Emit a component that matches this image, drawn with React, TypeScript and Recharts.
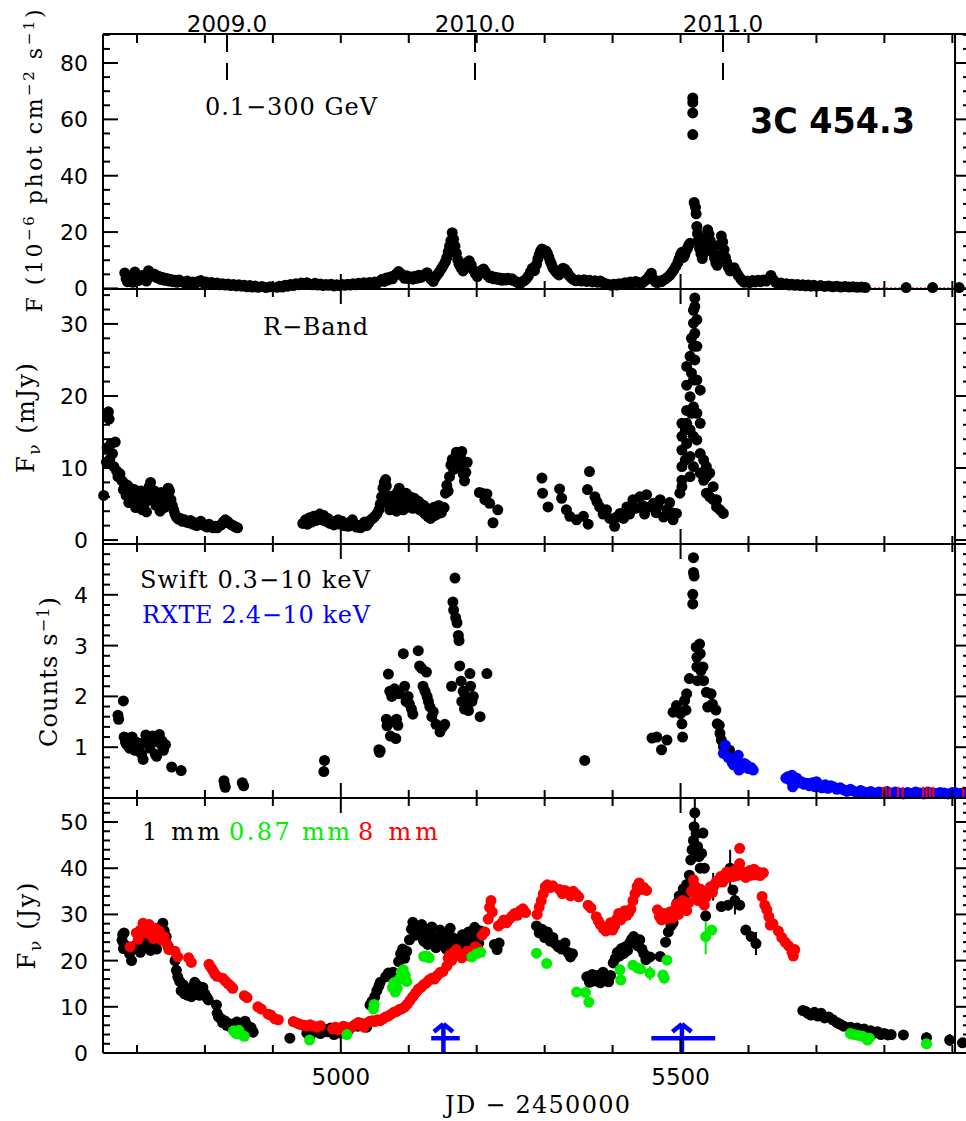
import React from "react"
import { ScatterChart, Scatter, XAxis, YAxis, ReferenceLine, ErrorBar } from "recharts"

const BLACK = "#000000"
const GREEN = "#00ee00"
const RED = "#ff0000"
const BLUE = "#0000ff"
const SANS = "'DejaVu Sans', sans-serif"
const SERIF = "'DejaVu Serif', serif"

const CHART_W = 981
const DOT_R = 5.5

// shared time axis (JD - 2450000)
const jdDomain: [number, number] = [4650, 5926]
const jdTicks = [4700, 4800, 4900, 5000, 5100, 5200, 5300, 5400, 5500, 5600, 5700, 5800, 5900]
const jdMajor = [5000, 5500]
const jdLabelled = [5000, 5500]
const yearJD = [4832.5, 5197.5, 5562.5]
const yearLabels = ["2009.0", "2010.0", "2011.0"]
const topTicks = [4700, 4800, 4832.5, 4900, 5000, 5100, 5197.5, 5200, 5300, 5400, 5500, 5562.5, 5600, 5700, 5800, 5900]
const edgeJD = 5904

// panel 1: 0.1-300 GeV
const gammaTicks = [0, 5, 10, 15, 20, 25, 30, 35, 40, 45, 50, 55, 60, 65, 70, 75, 80, 85, 90]
const gammaMajor = [0, 20, 40, 60, 80]
const gamma: [number, number][] = [
  [4682, 5.5], [4684, 3.5], [4686, 2.4], [4688, 4.5], [4691, 3], [4694, 2.2], [4697, 5.8], [4700, 4.5], [4702, 2.8], [4705, 3.4],
  [4708, 4.6], [4711, 3.3], [4714, 2.6], [4717, 6.3], [4720, 5.2], [4723, 4.4], [4726, 5], [4729, 3.8], [4732, 4.3], [4735, 3.2],
  [4738, 3.9], [4741, 2.9], [4744, 3.5], [4747, 2.6], [4750, 3.2], [4753, 2.4], [4756, 2.9], [4759, 2.2], [4762, 3], [4766, 2.4],
  [4770, 2], [4774, 2.6], [4778, 1.8], [4782, 2.3], [4786, 1.7], [4790, 2.5], [4794, 2.8], [4798, 1.9], [4802, 2.3], [4806, 1.6],
  [4810, 2.1], [4814, 1.5], [4818, 1.9], [4822, 1.3], [4826, 1.7], [4830, 1.2], [4834, 1.6], [4838, 1], [4842, 1.4], [4846, 0.9],
  [4850, 1.3], [4854, 0.8], [4858, 1.1], [4862, 0.6], [4866, 1], [4870, 0.5], [4874, 0.9], [4878, 0.4], [4884, 0.7], [4890, 0.3],
  [4896, 0.6], [4906, 0.4], [4910, 0.8], [4914, 0.5], [4918, 1.1], [4922, 0.8], [4926, 1.4], [4930, 1], [4934, 1.7], [4938, 1.3],
  [4942, 1.9], [4946, 1.5], [4950, 2], [4954, 1.6], [4958, 1.3], [4962, 1.8], [4966, 1.2], [4970, 1.6], [4974, 1], [4978, 1.4],
  [4982, 1.1], [4986, 1.5], [4990, 0.9], [4994, 1.3], [4998, 1], [5002, 1.4], [5006, 1.1], [5010, 1.5], [5014, 1.2], [5018, 1.7],
  [5022, 1.3], [5026, 1.8], [5030, 1.4], [5034, 2], [5038, 1.5], [5042, 2.1], [5046, 1.7], [5050, 2.3], [5054, 1.9], [5058, 2.7],
  [5061, 3.3], [5064, 2.5], [5067, 3.7], [5070, 3], [5073, 4.1], [5076, 3.4], [5079, 4.6], [5082, 5.2], [5085, 6], [5088, 5.3],
  [5091, 4.4], [5094, 3.6], [5097, 4.5], [5100, 3.5], [5103, 4.1], [5106, 3.3], [5109, 4.3], [5112, 3.6], [5115, 4.7], [5118, 3.9],
  [5121, 4.4], [5124, 5], [5127, 5.6], [5130, 4.4], [5133, 3.2], [5136, 2.5], [5139, 3.8], [5142, 4.9], [5145, 5.8], [5148, 7],
  [5151, 8.2], [5154, 9.5], [5156, 11], [5158, 13], [5160, 15], [5162, 17], [5164, 19.8], [5166, 17.5], [5168, 15], [5170, 12.5],
  [5172, 10.2], [5174, 8.6], [5177, 7.2], [5180, 6.2], [5183, 7.8], [5186, 9.2], [5189, 9.8], [5192, 8.3], [5195, 6.5], [5198, 5.3],
  [5201, 4.2], [5204, 5.4], [5207, 6.4], [5210, 6.9], [5213, 5.8], [5216, 4.6], [5219, 3.8], [5222, 4.3], [5225, 3.4], [5228, 4],
  [5231, 3.2], [5234, 3.7], [5237, 2.9], [5240, 3.5], [5243, 3], [5246, 3.6], [5249, 3.1], [5252, 3.4], [5255, 2.7], [5258, 2.4],
  [5261, 2], [5264, 1.7], [5267, 2.4], [5270, 2.8], [5273, 3.4], [5276, 4.4], [5279, 5.8], [5282, 7.2], [5285, 6.3], [5288, 8.5],
  [5290, 10.5], [5292, 12], [5294, 13.2], [5296, 14], [5298, 13.5], [5300, 12.6], [5302, 13.3], [5304, 12.4], [5306, 11.2], [5308, 9.8],
  [5310, 8.6], [5312, 7.4], [5315, 6.4], [5318, 5.4], [5321, 4.8], [5324, 6.2], [5327, 7.2], [5330, 6.8], [5333, 5.8], [5336, 4.6],
  [5339, 3.8], [5342, 3.2], [5346, 2.7], [5350, 3], [5354, 2.6], [5358, 3.1], [5362, 2.5], [5366, 2.9], [5370, 2.3], [5374, 2.7],
  [5378, 2.2], [5382, 2.6], [5386, 2], [5390, 1.7], [5394, 1.4], [5398, 1.1], [5402, 1.5], [5406, 1.2], [5410, 1.7], [5414, 1.4],
  [5418, 2], [5422, 1.6], [5426, 2.3], [5430, 1.9], [5434, 2.5], [5438, 2.1], [5442, 1.6], [5446, 2.4], [5450, 3.2], [5454, 4.4],
  [5457, 5.4], [5460, 3.4], [5463, 2.3], [5466, 2.1], [5469, 2.6], [5472, 2.4], [5475, 3], [5478, 3.4], [5481, 4], [5484, 4.6],
  [5487, 5.6], [5490, 6.6], [5493, 7.8], [5496, 9.2], [5498, 10.6], [5500, 12], [5502, 12.8], [5504, 11], [5506, 11.8], [5508, 13.2],
  [5510, 14.2], [5512, 15.3], [5514, 16], [5518, 54.6], [5518, 62.3], [5518, 66], [5518, 67.6], [5520, 30.5], [5522, 28.8], [5523, 26.5],
  [5524, 22], [5525, 19.5], [5526, 17], [5528, 14.2], [5530, 12.3], [5532, 10.6], [5534, 12.5], [5536, 15.5], [5538, 18], [5540, 20.8],
  [5542, 19.2], [5544, 16.8], [5546, 14.7], [5548, 12.8], [5550, 10.8], [5552, 9], [5554, 8.2], [5556, 11.5], [5558, 15.5], [5560, 18.6],
  [5562, 16.5], [5564, 13.8], [5566, 11], [5568, 9.2], [5570, 7.6], [5573, 6.2], [5576, 6.8], [5579, 7.3], [5582, 5.8], [5585, 4.6],
  [5588, 3.6], [5591, 2.7], [5594, 2.2], [5598, 2.6], [5602, 2.1], [5606, 2.8], [5610, 2.3], [5614, 2.9], [5618, 2.4], [5622, 3],
  [5626, 2.6], [5630, 3.5], [5633, 4.6], [5636, 3.2], [5640, 2.2], [5644, 1.6], [5648, 1.9], [5652, 1.4], [5656, 1.7], [5660, 1.2],
  [5664, 1.5], [5668, 1.1], [5672, 1.4], [5676, 1], [5680, 1.3], [5684, 0.9], [5688, 1.2], [5692, 0.8], [5696, 1.1], [5700, 0.8],
  [5706, 1], [5712, 0.7], [5718, 0.9], [5724, 0.6], [5730, 0.8], [5736, 0.5], [5742, 0.7], [5748, 0.5], [5754, 0.6], [5760, 0.4],
  [5766, 0.5], [5772, 0.3], [5832, 0.3], [5871, 0.3], [5910, 0.3],
]
const gammaLimitJD = [4878, 4882, 4887, 4892, 4897, 4902, 4907, 4912, 4917, 4922, 4927, 5780, 5786, 5792, 5798, 5804, 5810, 5816,
  5822, 5828, 5836, 5842, 5848, 5854, 5860, 5866, 5876, 5882, 5888, 5894, 5900, 5908, 5914, 5920]

// panel 2: R band
const rTicks = [0, 2, 4, 6, 8, 10, 12, 14, 16, 18, 20, 22, 24, 26, 28, 30, 32, 34]
const rMajor = [0, 10, 20, 30]
const rBand: [number, number][] = [
  [4651, 6.2], [4655, 10.8], [4656, 12.8], [4657, 17], [4658, 17.8], [4659, 16.8], [4660, 11.2], [4662, 13.4], [4664, 12], [4666, 10.2],
  [4668, 13.6], [4670, 9.6], [4672, 8.8], [4675, 9.2], [4678, 8.2], [4680, 7], [4682, 7.8], [4684, 6.2], [4686, 7.6], [4688, 5.2],
  [4690, 7.2], [4692, 6.4], [4694, 5.5], [4696, 7], [4698, 4.5], [4700, 6.8], [4702, 6], [4704, 5], [4706, 6.8], [4708, 4.2],
  [4710, 6.4], [4712, 5.2], [4714, 3.9], [4716, 6], [4718, 7.4], [4720, 8], [4722, 6.6], [4724, 5.5], [4726, 6.8], [4728, 4.8],
  [4730, 6.2], [4732, 5.4], [4734, 4], [4736, 6.6], [4738, 5.6], [4740, 4.5], [4742, 6.3], [4744, 5], [4746, 7.2], [4748, 6.8],
  [4750, 5.6], [4752, 4.8], [4754, 4.2], [4756, 3.6], [4758, 3.2], [4761, 2.9], [4764, 3], [4767, 2.6], [4770, 2.8], [4773, 2.5],
  [4776, 2.4], [4779, 2.7], [4782, 2.2], [4785, 2.4], [4788, 2], [4791, 2.3], [4794, 2.6], [4797, 2.1], [4800, 2], [4803, 1.8],
  [4806, 2.2], [4809, 1.9], [4812, 1.7], [4815, 1.9], [4818, 1.7], [4821, 2], [4824, 2.1], [4827, 2.5], [4830, 2.8], [4833, 2.6],
  [4836, 2.3], [4839, 2.1], [4842, 2], [4845, 1.8], [4848, 1.7],
  [4944, 2.3], [4948, 2.8], [4951, 2.2], [4954, 3.1], [4957, 2.5], [4960, 3.3], [4963, 2.7], [4966, 3], [4969, 3.6], [4972, 2.8],
  [4975, 3.4], [4978, 2.6], [4981, 3], [4984, 2.3], [4987, 2.6], [4990, 2.1], [4993, 2.5], [4996, 2.8], [4999, 2.2], [5002, 2.6],
  [5005, 2], [5008, 2.3], [5011, 1.9], [5014, 2.4], [5017, 2.8], [5020, 2.2], [5023, 1.8], [5026, 2], [5029, 1.7], [5032, 2.2],
  [5035, 2.5], [5038, 2], [5041, 2.4], [5044, 2.8], [5047, 3], [5050, 3.3], [5053, 3.6], [5056, 4.2], [5058, 5], [5060, 6],
  [5062, 7.2], [5064, 8], [5066, 8.4], [5067, 7.5], [5068, 6.2], [5070, 5], [5072, 4.2], [5074, 5.5], [5076, 4.6], [5078, 6.2],
  [5080, 5.2], [5082, 4], [5084, 6.7], [5086, 7.2], [5088, 6], [5090, 5], [5092, 4.2], [5094, 5.6], [5096, 6.5], [5098, 5.4],
  [5100, 4.6], [5102, 6], [5104, 5.2], [5106, 4.4], [5108, 5.8], [5110, 5], [5112, 4.5], [5114, 5.4], [5116, 4.2], [5118, 5],
  [5120, 4], [5122, 4.8], [5124, 3.6], [5126, 4.4], [5128, 3.3], [5130, 4.1], [5132, 3], [5134, 3.8], [5136, 4.5], [5138, 3.4],
  [5140, 4.6], [5142, 3.6], [5144, 4.8], [5146, 4.4], [5148, 3.8], [5152, 4.5], [5154, 6.5], [5156, 7.6], [5158, 6.8], [5160, 8.8],
  [5162, 10.4], [5164, 11.2], [5166, 9.8], [5168, 10.8], [5170, 12.2], [5172, 11], [5174, 10.2], [5176, 11.6], [5178, 12.3], [5180, 9.2],
  [5182, 8.2], [5184, 9.4], [5186, 10.8], [5204, 6.6], [5208, 6.5], [5212, 5.6], [5215, 6.4], [5219, 5.1], [5224, 2.4], [5231, 4.2],
  [5296, 8.6], [5297, 6.5], [5305, 4.6], [5322, 7.1], [5325, 5.8], [5332, 4.2], [5337, 3.3], [5347, 2.8], [5357, 3.3], [5364, 2.2],
  [5363, 7], [5366, 9.5], [5374, 6], [5377, 5.3], [5381, 4.6], [5386, 3.6], [5391, 4.2], [5396, 3], [5401, 2.8], [5403, 1.9],
  [5406, 3.2], [5411, 3.7], [5416, 3], [5421, 4.6], [5425, 3.6], [5430, 5.6], [5434, 4.4], [5440, 6], [5444, 4.8], [5447, 3.6],
  [5450, 6.3], [5454, 4.6], [5460, 5.1], [5464, 3.8], [5467, 4.8], [5470, 5.6], [5475, 3.2], [5480, 4.2], [5484, 5.2], [5487, 3.8],
  [5489, 2.8], [5494, 3.7], [5499, 6.5], [5502, 7.4], [5502, 16.2], [5502, 14.4], [5502, 12.5], [5502, 10.2], [5502, 8.3], [5507, 15.3],
  [5507, 11.1], [5509, 24.1], [5509, 21.5], [5509, 18], [5509, 16.2], [5509, 13.4], [5514, 25.5], [5514, 19.9], [5514, 15.3], [5514, 11.6],
  [5514, 8.8], [5516, 28], [5516, 23.2], [5516, 17.6], [5519, 31.9], [5519, 30.1], [5519, 26.9], [5519, 22.2], [5519, 18.5], [5519, 14.4],
  [5519, 10.2], [5521, 33.6], [5521, 32.4], [5521, 28.7], [5521, 25], [5524, 30.6], [5524, 26.9], [5524, 22.2], [5524, 17.6], [5524, 13.9],
  [5529, 20.8], [5529, 16.2], [5529, 12], [5529, 9.3], [5534, 8.3], [5534, 11.1], [5538, 10.2], [5538, 6.5], [5538, 8.8], [5543, 9.3],
  [5543, 6], [5548, 7.4], [5548, 5.6], [5553, 5.6], [5553, 4.6], [5558, 4.2], [5563, 3.7],
]

// panel 3: X-ray count rates
const xTicksY = [0, 0.2, 0.4, 0.6, 0.8, 1, 1.2, 1.4, 1.6, 1.8, 2, 2.2, 2.4, 2.6, 2.8, 3, 3.2, 3.4, 3.6, 3.8, 4, 4.2, 4.4, 4.6, 4.8, 5]
const xMajorY = [0, 1, 2, 3, 4, 5]
const xLabelledY = [1, 2, 3, 4]
const swift: [number, number][] = [
  [4672, 1.63], [4673, 1.55], [4680, 1.91], [4681, 1.2], [4683, 1.1], [4685, 1.05], [4687, 1.18], [4689, 0.98], [4691, 1.12], [4693, 1.2],
  [4695, 1.04], [4697, 0.94], [4699, 1.1], [4701, 1.02], [4703, 0.92], [4705, 1.06], [4707, 0.86], [4709, 0.76], [4711, 1.1], [4713, 1.24],
  [4715, 1.15], [4717, 1.05], [4719, 0.98], [4721, 1.08], [4723, 1.22], [4725, 1.12], [4727, 0.86], [4729, 0.82], [4731, 1.18], [4733, 1.25],
  [4735, 1.06], [4737, 1.12], [4739, 0.94], [4742, 1.05], [4751, 0.61], [4765, 0.54], [4828, 0.34], [4829, 0.26], [4830, 0.21], [4855, 0.3],
  [4857, 0.24], [4976, 0.74], [4975, 0.52], [5056, 0.95], [5057, 0.9], [5058, 0.93], [5067, 1.55], [5068, 1.42], [5070, 2.44], [5072, 2.1],
  [5073, 1.22], [5075, 2], [5077, 1.5], [5079, 2.15], [5081, 1.17], [5082, 1.55], [5084, 1.43], [5086, 2.05], [5092, 2.84], [5094, 2.2],
  [5096, 1.9], [5099, 2], [5101, 1.85], [5104, 1.75], [5106, 1.65], [5114, 2.9], [5116, 2.6], [5119, 2.55], [5121, 2.2], [5124, 2.1],
  [5126, 2.48], [5127, 2], [5129, 1.9], [5131, 1.8], [5134, 1.6], [5136, 1.7], [5140, 1.45], [5146, 1.3], [5150, 1.4], [5153, 1.45],
  [5163, 2.2], [5165, 3.86], [5166, 3.7], [5168, 4.33], [5169, 3.55], [5171, 3.45], [5173, 3.2], [5174, 3.1], [5175, 2.6], [5177, 2.3],
  [5178, 1.9], [5180, 2.1], [5182, 1.75], [5184, 2], [5186, 1.85], [5188, 1.72], [5190, 2.45], [5191, 2.2], [5193, 1.9], [5195, 2],
  [5205, 1.6], [5215, 2.45], [5359, 0.74], [5458, 1.18], [5465, 1.2], [5472, 0.95], [5480, 1.14], [5489, 1.69], [5494, 1.82], [5500, 1.66],
  [5502, 1.46], [5503, 1.2], [5506, 1.92], [5508, 1.73], [5509, 2.05], [5513, 2.35], [5518, 4.01], [5518, 3.82], [5519, 4.73], [5519, 4.44],
  [5520, 4.37], [5523, 2.97], [5524, 2.77], [5524, 2.58], [5525, 2.31], [5528, 3.03], [5529, 2.84], [5530, 2.51], [5533, 2.58], [5534, 2.31],
  [5538, 2.08], [5540, 1.79], [5545, 2.05], [5547, 1.85], [5552, 1.73], [5554, 1.46], [5557, 1.43], [5558, 1.27], [5560, 1.14], [5563, 1.01],
  [5572, 0.94],
]
const rxte: [number, number][] = [
  [5563, 0.88], [5566, 1.04], [5570, 0.8], [5573, 0.78], [5576, 0.7], [5578, 0.65], [5582, 0.72], [5585, 0.84], [5586, 0.55], [5590, 0.6],
  [5594, 0.68], [5597, 0.65], [5600, 0.58], [5604, 0.6], [5607, 0.55], [5655, 0.39], [5658, 0.42], [5661, 0.35], [5664, 0.45], [5665, 0.22],
  [5668, 0.36], [5671, 0.39], [5674, 0.3], [5678, 0.32], [5682, 0.27], [5686, 0.29], [5690, 0.24], [5694, 0.3], [5698, 0.22], [5700, 0.32],
  [5704, 0.26], [5708, 0.2], [5713, 0.26], [5717, 0.19], [5721, 0.24], [5725, 0.22], [5730, 0.17], [5735, 0.2], [5740, 0.16], [5745, 0.13],
  [5750, 0.17], [5754, 0.14], [5760, 0.1], [5765, 0.15], [5770, 0.12], [5774, 0.1], [5780, 0.13], [5786, 0.09], [5792, 0.12], [5798, 0.1],
  [5804, 0.13], [5810, 0.09], [5816, 0.12], [5822, 0.1], [5828, 0.08], [5834, 0.11], [5840, 0.09], [5846, 0.12], [5852, 0.1], [5858, 0.08],
  [5864, 0.12], [5870, 0.1], [5876, 0.09], [5882, 0.11], [5888, 0.1], [5894, 0.08], [5900, 0.11], [5906, 0.1], [5912, 0.09], [5918, 0.11],
  [5924, 0.1],
]
const xrayLimitJD = [5798, 5802, 5808, 5820, 5827, 5857, 5862, 5867, 5872, 5916]
const xrayLimitLevel = 0.22

// panel 4: mm fluxes
const mmTicks = [0, 2, 4, 6, 8, 10, 12, 14, 16, 18, 20, 22, 24, 26, 28, 30, 32, 34, 36, 38, 40, 42, 44, 46, 48, 50, 52, 54]
const mmMajor = [0, 10, 20, 30, 40, 50]
const mm1: [number, number][] = [
  [4678, 24.4], [4679, 25.6], [4680, 22.6], [4682, 23.4], [4681, 26], [4689, 21.5], [4692, 20], [4695, 22.5], [4699, 23.4], [4702, 24.5],
  [4705, 21.8], [4708, 23], [4711, 25.2], [4714, 22.8], [4717, 24], [4720, 22.2], [4723, 23.6], [4726, 24.8], [4729, 22.5], [4732, 26.2],
  [4735, 27.2], [4738, 28.1], [4740, 26.5], [4743, 25.2], [4746, 23], [4756, 20], [4758, 17.9], [4760, 16.5], [4763, 15.5], [4765, 13.5],
  [4768, 14.8], [4770, 12.8], [4772, 14], [4775, 12.5], [4778, 13.8], [4780, 12.2], [4783, 14.4], [4785, 15.3], [4787, 13], [4790, 14.5],
  [4792, 12.5], [4795, 13.8], [4797, 14.2], [4800, 12.8], [4803, 12], [4805, 11.5], [4817, 10.4], [4818, 8.6], [4820, 7.8], [4823, 7.5],
  [4826, 6.6], [4829, 7], [4832, 6], [4835, 6.4], [4838, 5.6], [4841, 6.2], [4844, 5.8], [4847, 6.7], [4850, 5.5], [4853, 6.4],
  [4856, 5.2], [4859, 6.9], [4862, 6], [4865, 4.8], [4868, 5.5], [4871, 4.5], [4925, 3.2], [4950, 4.3], [4955, 3.8], [4960, 4.6],
  [4965, 5], [4970, 4.2], [4975, 5.2], [4980, 4.6], [4985, 5.4], [4990, 4], [4995, 4.8], [5000, 4.3], [5005, 5.2], [5010, 4.6],
  [5015, 5.5], [5020, 6], [5025, 5.8], [5030, 6.4], [5035, 6.2], [5038, 5.6], [5043, 10.4], [5046, 11.2], [5050, 12.2], [5053, 13.5],
  [5056, 14.5], [5058, 15.3], [5066, 16.5], [5070, 17.3], [5074, 16.8], [5077, 17.5], [5085, 19.8], [5088, 21.5], [5091, 22.5], [5094, 20.5],
  [5097, 22], [5101, 24.5], [5104, 26.8], [5106, 28.3], [5108, 26.8], [5110, 25.5], [5113, 27.2], [5116, 25.5], [5119, 27.8], [5122, 24.2],
  [5125, 26.5], [5128, 23.5], [5131, 25.8], [5134, 27.3], [5137, 24.8], [5140, 22.8], [5143, 25], [5146, 26.6], [5149, 23.6], [5152, 25.4],
  [5155, 22.5], [5158, 24.2], [5161, 27], [5164, 25], [5167, 23], [5170, 24.6], [5173, 22], [5176, 23.8], [5179, 25.6], [5182, 22.8],
  [5185, 24.2], [5188, 26.2], [5191, 23.4], [5194, 25], [5197, 27.2], [5200, 25.6], [5203, 23.8], [5206, 26.4], [5226, 23.5], [5230, 22.4],
  [5233, 23.8], [5288, 27.5], [5292, 26], [5296, 26.8], [5300, 25], [5304, 26.2], [5308, 24.2], [5312, 25], [5316, 23.6], [5320, 23],
  [5325, 22.5], [5330, 23.8], [5334, 21.8], [5338, 20.8], [5341, 21.5], [5362, 16.5], [5366, 15.3], [5370, 17], [5374, 15.6], [5378, 16.8],
  [5382, 15.2], [5386, 17.5], [5390, 16.2], [5394, 15.4], [5397, 16.8], [5401, 19.5], [5404, 20.5], [5407, 21.8], [5410, 21], [5413, 22.6],
  [5416, 21.5], [5419, 23], [5422, 22.2], [5425, 23.8], [5428, 24.6], [5431, 25.2], [5434, 24], [5437, 23.2], [5440, 24.5], [5443, 22.5],
  [5446, 21.5], [5449, 20.2], [5455, 20.8], [5470, 20.9], [5478, 24], [5482, 26.2], [5486, 27.5], [5489, 28.2], [5492, 30], [5495, 32.5],
  [5498, 34], [5501, 33], [5504, 35.5], [5507, 34.2], [5509, 36.5], [5513, 38.5], [5515, 41.8], [5517, 44], [5519, 46], [5520, 49],
  [5523, 47.5], [5525, 44.7], [5527, 42.5], [5529, 40], [5531, 43.2], [5533, 47.6], [5535, 40], [5537, 29.7], [5560, 31.7], [5570, 32],
  [5577, 35.3], [5587, 32], [5596, 26.6], [5604, 25.2], [5680, 9.2], [5684, 9], [5688, 8.5], [5692, 8.2], [5697, 8.8], [5702, 8],
  [5707, 8.6], [5712, 7.6], [5718, 7.8], [5724, 7.2], [5730, 6.6], [5735, 6.2], [5740, 5.8], [5750, 5.6], [5755, 5], [5760, 5.4],
  [5765, 4.8], [5770, 5.2], [5775, 4.5], [5780, 4.8], [5785, 4.3], [5790, 4.6], [5795, 4], [5800, 4.2], [5805, 3.9], [5810, 4],
  [5828, 3.9], [5915, 2.2],
]
const mm1Err: [number, number, number][] = [
  [5521, 52, 3], [5548, 36, 3], [5573, 40, 4], [5580, 33, 3], [5611, 23.7, 2.5], [5862, 3.3, 1.2], [5896, 2.8, 1.3],
]
const mm087: [number, number][] = [
  [4842, 4.8], [4846, 4.2], [4850, 4.9], [4854, 4], [4858, 3.6], [4954, 2.8], [5009, 4], [5048, 9.5], [5049, 10.5], [5076, 14.2],
  [5078, 15.2], [5080, 13.2], [5083, 14], [5086, 16], [5089, 17.5], [5092, 18], [5095, 16.8], [5097, 15.5], [5122, 20.9], [5126, 21],
  [5130, 20.6], [5193, 20.8], [5200, 21.5], [5206, 21.8], [5288, 21.6], [5303, 19.4], [5347, 13.2], [5360, 13.1], [5365, 11], [5411, 18],
  [5412, 15.8], [5430, 19], [5437, 18.4], [5441, 18.2], [5474, 16.9], [5476, 16.2], [5480, 20.1], [5546, 26.6], [5750, 4.2], [5755, 4],
  [5762, 3.8], [5768, 3.6], [5775, 2.8], [5778, 3.2], [5862, 2],
]
const mm087Err: [number, number, number][] = [[5537, 25.2, 3.8], [5455, 17.3, 1.5]]
const mm8: [number, number][] = [
  [4690, 23], [4699, 26], [4702, 24.6], [4705, 26.6], [4709, 28.1], [4714, 26], [4718, 27.8], [4721, 25.6], [4724, 24.8], [4727, 27],
  [4730, 25.5], [4733, 26.4], [4736, 24.5], [4740, 25.2], [4744, 23.6], [4747, 22.4], [4756, 22], [4760, 20.8], [4776, 20.6], [4780, 19.6],
  [4806, 19.2], [4809, 18.5], [4812, 17.8], [4815, 17], [4818, 16.6], [4826, 16.2], [4830, 15.6], [4834, 15], [4838, 14.5], [4841, 14],
  [4858, 12.4], [4862, 12], [4878, 10], [4883, 9.5], [4893, 8.4], [4897, 8.2], [4903, 7.4], [4908, 7.2], [4930, 6.8], [4935, 6.5],
  [4940, 6.2], [4945, 6], [4950, 5.9], [4955, 6.1], [4960, 5.8], [4965, 5.6], [4970, 5.9], [4988, 5.2], [4992, 5.6], [4996, 5],
  [5000, 5.4], [5004, 5.8], [5008, 5.5], [5012, 5.2], [5016, 5.6], [5022, 6.2], [5026, 6.6], [5030, 6], [5034, 5.6], [5038, 6.4],
  [5042, 6.8], [5046, 7], [5050, 6.8], [5054, 7.2], [5058, 7], [5062, 7.4], [5066, 7.8], [5070, 8], [5074, 8.4], [5078, 8.8],
  [5082, 9], [5086, 9.4], [5090, 9.6], [5094, 10], [5098, 10.6], [5102, 11.4], [5106, 12.2], [5110, 13], [5114, 13.8], [5118, 14.2],
  [5122, 14.8], [5126, 15.2], [5130, 15.8], [5134, 16.2], [5138, 16], [5142, 16.8], [5146, 17.4], [5150, 17.6], [5156, 18.8], [5158, 20.5],
  [5160, 21.2], [5163, 20], [5166, 21.8], [5170, 22.4], [5174, 21.2], [5178, 20.6], [5182, 21.5], [5186, 22], [5190, 21], [5194, 22.2],
  [5198, 23], [5202, 22.5], [5208, 25.5], [5212, 26.2], [5217, 29], [5219, 31.5], [5221, 33], [5223, 30.5], [5232, 27.5], [5236, 28],
  [5240, 28.8], [5244, 28.2], [5248, 29], [5252, 29.6], [5256, 30.2], [5260, 29.8], [5264, 30.8], [5268, 31.2], [5272, 30.4], [5289, 30],
  [5292, 31.6], [5295, 33], [5298, 34.5], [5301, 36], [5304, 36.4], [5308, 35.8], [5312, 36.2], [5322, 35.4], [5326, 34.5], [5330, 35.2],
  [5334, 34.8], [5338, 34], [5342, 35], [5346, 34.4], [5350, 33.8], [5364, 32], [5368, 31.4], [5376, 29.5], [5379, 28.6], [5382, 27.8],
  [5386, 27], [5390, 26.4], [5394, 27.2], [5397, 28.2], [5400, 26.6], [5403, 27.5], [5406, 29], [5409, 30.2], [5412, 28.8], [5415, 29.6],
  [5418, 30.8], [5421, 29.8], [5424, 30.4], [5427, 31.2], [5430, 33], [5433, 34.5], [5436, 36], [5439, 36.8], [5442, 35.4], [5446, 35.8],
  [5450, 35.2], [5466, 31], [5469, 29.5], [5472, 28.8], [5475, 30.2], [5478, 29], [5484, 30.5], [5488, 29.2], [5491, 31], [5494, 32.2],
  [5497, 30], [5500, 31.5], [5503, 33], [5506, 32], [5509, 30.8], [5512, 32.5], [5516, 35], [5519, 37.5], [5521, 36.2], [5523, 34],
  [5526, 33], [5529, 35.5], [5532, 34.5], [5535, 32], [5538, 33.8], [5541, 35.2], [5544, 36], [5547, 34.8], [5550, 36.5], [5553, 37.2],
  [5556, 37], [5559, 38.2], [5562, 37], [5565, 38.6], [5568, 39.2], [5571, 38], [5574, 39], [5577, 38.2], [5580, 39.6], [5583, 38.4],
  [5587, 44.3], [5587, 41], [5590, 38.6], [5593, 39.2], [5596, 38], [5599, 38.8], [5602, 39.5], [5605, 38.5], [5608, 39.8], [5611, 38.6],
  [5614, 39.2], [5617, 38.4], [5620, 33.9], [5622, 39], [5624, 32], [5627, 31], [5630, 29.5], [5632, 27.7], [5636, 28], [5644, 26.4],
  [5649, 25], [5654, 24], [5659, 23.2], [5664, 21.8], [5666, 21], [5668, 22.4],
]

// blue arrows in the mm panel
const arrowJD = [5151, 5502]
const arrowBarFrom = [5133, 5457]
const arrowBarTo = [5175, 5551]
const arrowBarLevel = 3.2
const arrowTipLevel = 6.3
const arrowWingLevel = 4.6
const arrowWingHalf = 14

const pts = (a: [number, number][]) => a.map(([x, y]) => ({ x, y }))
const errPts = (a: [number, number, number][]) => a.map(([x, y, err]) => ({ x, y, err }))

const dot = (fill: string, r = DOT_R) => (p: any) =>
  p.cx == null ? <g /> : <circle cx={p.cx} cy={p.cy} r={r} fill={fill} />

const limitBar = (p: any) =>
  p.cx == null ? <g /> : <line x1={p.cx} x2={p.cx} y1={p.cy} y2={p.cy + 11} stroke={RED} strokeWidth={2} />

const leftTick = (major: number[], labelled: number[]) => (p: any) => {
  const v = p.payload.value
  const len = major.includes(v) ? 15 : 7
  return (
    <g>
      <line x1={p.x} x2={p.x + len} y1={p.y} y2={p.y} stroke={BLACK} strokeWidth={2} />
      {labelled.includes(v) && (
        <text x={p.x - 15} y={p.y + 8} textAnchor="end" fontFamily={SANS} fontSize={22} fill={BLACK}>{v}</text>
      )}
    </g>
  )
}

const rightTick = (major: number[]) => (p: any) => {
  const len = major.includes(p.payload.value) ? 15 : 7
  return <line x1={p.x} x2={p.x - len} y1={p.y} y2={p.y} stroke={BLACK} strokeWidth={2} />
}

const jdTick = (dir: number, withLabels: boolean) => (p: any) => {
  const v = p.payload.value
  const len = jdMajor.includes(v) ? 15 : 8
  return (
    <g>
      <line x1={p.x} x2={p.x} y1={p.y} y2={p.y + dir * len} stroke={BLACK} strokeWidth={2} />
      {withLabels && jdLabelled.includes(v) && (
        <text x={p.x} y={p.y + 32} textAnchor="middle" fontFamily={SANS} fontSize={23} fill={BLACK}>{v}</text>
      )}
    </g>
  )
}

const yearTick = (p: any) => {
  const v = p.payload.value
  const i = yearJD.indexOf(v)
  if (i < 0) return <line x1={p.x} x2={p.x} y1={p.y} y2={p.y + 9} stroke={BLACK} strokeWidth={2} />
  return (
    <g>
      <line x1={p.x} x2={p.x} y1={p.y} y2={p.y + 18} stroke={BLACK} strokeWidth={2} />
      <line x1={p.x} x2={p.x} y1={p.y + 29} y2={p.y + 46} stroke={BLACK} strokeWidth={2} />
      <text x={p.x} y={p.y - 2} textAnchor="middle" fontFamily={SANS} fontSize={23} fill={BLACK}>{yearLabels[i]}</text>
    </g>
  )
}

const axisLine = { stroke: BLACK, strokeWidth: 2 }

type PanelProps = {
  top: number
  height: number
  mTop: number
  mBottom: number
  yDomain: [number, number]
  yTicks: number[]
  yMajor: number[]
  yLabelled: number[]
  firstPanel?: boolean
  lastPanel?: boolean
  children: React.ReactNode
}

function Panel({ top, height, mTop, mBottom, yDomain, yTicks, yMajor, yLabelled, firstPanel, lastPanel, children }: PanelProps) {
  return (
    <div style={{ position: "absolute", left: 0, top }}>
      <ScatterChart width={CHART_W} height={height} margin={{ top: mTop, right: 0, bottom: mBottom, left: 0 }}>
        <XAxis xAxisId="b" type="number" dataKey="x" domain={jdDomain} ticks={jdTicks} interval={0} height={1}
          tickSize={0} tickMargin={0} tickLine={false} axisLine={axisLine} tick={jdTick(-1, !!lastPanel)} />
        <XAxis xAxisId="t" orientation="top" type="number" dataKey="x" domain={jdDomain} allowDataOverflow
          ticks={firstPanel ? topTicks : jdTicks} interval={0} height={1} tickSize={0} tickMargin={0} tickLine={false}
          axisLine={axisLine} tick={firstPanel ? yearTick : jdTick(1, false)} />
        <YAxis yAxisId="l" type="number" dataKey="y" domain={yDomain} ticks={yTicks} interval={0} width={103}
          tickSize={0} tickMargin={0} tickLine={false} axisLine={axisLine} tick={leftTick(yMajor, yLabelled)} />
        <YAxis yAxisId="r" orientation="right" type="number" dataKey="y" domain={yDomain} allowDataOverflow ticks={yTicks}
          interval={0} width={11} tickSize={0} tickMargin={0} tickLine={false} axisLine={axisLine} tick={rightTick(yMajor)} />
        <ReferenceLine xAxisId="b" yAxisId="l" x={edgeJD} stroke={BLACK} strokeWidth={2} />
        {children}
      </ScatterChart>
    </div>
  )
}

export default function App() {
  return (
    <div style={{ position: "relative", width: 966, height: 1121, overflow: "hidden", background: "#fff" }}>
      <style>{"body{margin:0}"}</style>

      <Panel top={0} height={300} mTop={33} mBottom={10} yDomain={[-0.2, 90.3]} yTicks={gammaTicks} yMajor={gammaMajor}
        yLabelled={gammaMajor} firstPanel>
        <Scatter xAxisId="b" yAxisId="l" data={gammaLimitJD.map((x) => ({ x, y: 0 }))} shape={dot(RED, 1.2)} isAnimationActive={false} />
        <Scatter xAxisId="b" yAxisId="l" data={pts(gamma)} shape={dot(BLACK)} isAnimationActive={false} />
      </Panel>

      <Panel top={277} height={278} mTop={11} mBottom={10} yDomain={[-0.55, 34.85]} yTicks={rTicks} yMajor={rMajor} yLabelled={rMajor}>
        <Scatter xAxisId="b" yAxisId="l" data={pts(rBand)} shape={dot(BLACK)} isAnimationActive={false} />
      </Panel>

      <Panel top={532} height={277} mTop={11} mBottom={10} yDomain={[0, 5]} yTicks={xTicksY} yMajor={xMajorY} yLabelled={xLabelledY}>
        <Scatter xAxisId="b" yAxisId="l" data={pts(swift)} shape={dot(BLACK)} isAnimationActive={false} />
        <Scatter xAxisId="b" yAxisId="l" data={pts(rxte)} shape={dot(BLUE)} isAnimationActive={false} />
        <Scatter xAxisId="b" yAxisId="l" data={xrayLimitJD.map((x) => ({ x, y: xrayLimitLevel }))} shape={limitBar} isAnimationActive={false} />
      </Panel>

      <Panel top={786} height={318} mTop={11} mBottom={50} yDomain={[0, 55.2]} yTicks={mmTicks} yMajor={mmMajor} yLabelled={mmMajor} lastPanel>
        <Scatter xAxisId="b" yAxisId="l" data={pts(mm1)} shape={dot(BLACK)} isAnimationActive={false} />
        <Scatter xAxisId="b" yAxisId="l" data={errPts(mm1Err)} shape={dot(BLACK)} isAnimationActive={false}>
          <ErrorBar dataKey="err" direction="y" width={0} stroke={BLACK} strokeWidth={2} />
        </Scatter>
        <Scatter xAxisId="b" yAxisId="l" data={pts(mm8)} shape={dot(RED)} isAnimationActive={false} />
        <Scatter xAxisId="b" yAxisId="l" data={pts(mm087)} shape={dot(GREEN)} isAnimationActive={false} />
        <Scatter xAxisId="b" yAxisId="l" data={errPts(mm087Err)} shape={dot(GREEN)} isAnimationActive={false}>
          <ErrorBar dataKey="err" direction="y" width={0} stroke={GREEN} strokeWidth={2} />
        </Scatter>
        {arrowJD.flatMap((x, i) => [
          <ReferenceLine key={`bar${i}`} xAxisId="b" yAxisId="l" stroke={BLUE} strokeWidth={4.5}
            segment={[{ x: arrowBarFrom[i], y: arrowBarLevel }, { x: arrowBarTo[i], y: arrowBarLevel }]} />,
          <ReferenceLine key={`stem${i}`} xAxisId="b" yAxisId="l" stroke={BLUE} strokeWidth={4.5}
            segment={[{ x, y: 0 }, { x, y: arrowTipLevel }]} />,
          <ReferenceLine key={`wl${i}`} xAxisId="b" yAxisId="l" stroke={BLUE} strokeWidth={4.5}
            segment={[{ x: x - arrowWingHalf, y: arrowWingLevel }, { x, y: arrowTipLevel }]} />,
          <ReferenceLine key={`wr${i}`} xAxisId="b" yAxisId="l" stroke={BLUE} strokeWidth={4.5}
            segment={[{ x: x + arrowWingHalf, y: arrowWingLevel }, { x, y: arrowTipLevel }]} />,
        ])}
      </Panel>

      <svg width={966} height={1121} style={{ position: "absolute", left: 0, top: 0, pointerEvents: "none" }}>
        <g fontFamily={SERIF} fill={BLACK}>
          <text transform="translate(42,161) rotate(-90)" textAnchor="middle" fontSize={22} textLength={303} lengthAdjust="spacing">
            {"F  (10"}<tspan dy={-8} fontSize={15}>−6</tspan><tspan dy={8}> phot cm</tspan><tspan dy={-8} fontSize={15}>−2</tspan>
            <tspan dy={8}> s</tspan><tspan dy={-8} fontSize={15}>−1</tspan><tspan dy={8}>)</tspan>
          </text>
          <text transform="translate(34,418) rotate(-90)" textAnchor="middle" fontSize={24} textLength={110} lengthAdjust="spacing">
            F<tspan dy={6} fontSize={17}>ν</tspan><tspan dy={-6}> (mJy)</tspan>
          </text>
          <text transform="translate(57,672) rotate(-90)" textAnchor="middle" fontSize={24} textLength={150} lengthAdjust="spacing">
            Counts s<tspan dy={-8} fontSize={16}>−1</tspan><tspan dy={8}>)</tspan>
          </text>
          <text transform="translate(35,926) rotate(-90)" textAnchor="middle" fontSize={24} textLength={87} lengthAdjust="spacing">
            F<tspan dy={6} fontSize={17}>ν</tspan><tspan dy={-6}> (Jy)</tspan>
          </text>

          <text x={205} y={115} fontSize={24} textLength={172} lengthAdjust="spacing">0.1−300 GeV</text>
          <text x={263} y={335} fontSize={24} textLength={105} lengthAdjust="spacing">R−Band</text>
          <text x={140} y={588} fontSize={24} textLength={230} lengthAdjust="spacing">Swift 0.3−10 keV</text>
          <text x={142} y={623} fontSize={24} textLength={228} lengthAdjust="spacing" fill={BLUE}>RXTE 2.4−10 keV</text>
          <text x={142} y={840} fontSize={24} textLength={78} lengthAdjust="spacing">1 mm</text>
          <text x={229} y={840} fontSize={24} textLength={121} lengthAdjust="spacing" fill={GREEN}>0.87 mm</text>
          <text x={358} y={840} fontSize={24} textLength={80} lengthAdjust="spacing" fill={RED}>8 mm</text>
          <text x={445} y={1113} fontSize={24} textLength={185} lengthAdjust="spacing">JD − 2450000</text>
        </g>
        <text x={750} y={133} fontFamily={SANS} fontWeight="bold" fontSize={35} textLength={165} lengthAdjust="spacingAndGlyphs">3C 454.3</text>
      </svg>
    </div>
  )
}
